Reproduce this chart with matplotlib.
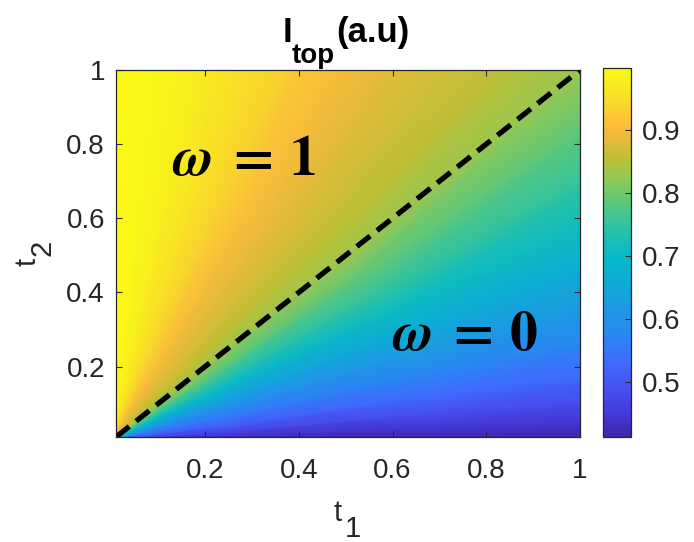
import numpy as np
import matplotlib
matplotlib.use("Agg")
import matplotlib.pyplot as plt
import matplotlib.tri as mtri
from matplotlib.colors import LinearSegmentedColormap

angles = [0, 3, 6, 10, 15, 20, 25, 30, 35, 40, 45, 50, 55, 60, 65, 70, 75, 80, 85, 90]
radii = [0.005, 0.25, 0.7, 1.42]
# one row per angle, one column per radius
I_top = [
    [0.413, 0.413, 0.413, 0.413],
    [0.440, 0.440, 0.445, 0.450],
    [0.470, 0.475, 0.485, 0.495],
    [0.510, 0.515, 0.530, 0.540],
    [0.550, 0.555, 0.575, 0.590],
    [0.590, 0.595, 0.620, 0.635],
    [0.635, 0.640, 0.660, 0.675],
    [0.685, 0.690, 0.705, 0.715],
    [0.735, 0.740, 0.750, 0.755],
    [0.790, 0.790, 0.792, 0.792],
    [0.840, 0.838, 0.835, 0.830],
    [0.860, 0.858, 0.855, 0.852],
    [0.875, 0.873, 0.871, 0.869],
    [0.890, 0.888, 0.887, 0.886],
    [0.907, 0.907, 0.907, 0.907],
    [0.935, 0.935, 0.935, 0.935],
    [0.958, 0.958, 0.958, 0.958],
    [0.977, 0.977, 0.977, 0.977],
    [0.991, 0.991, 0.991, 0.991],
    [0.998, 0.998, 0.998, 0.998],
]
t_diag = [0.01, 1.0]
cmin, cmax = 0.413, 0.998
ticks = [0.2, 0.4, 0.6, 0.8, 1.0]
tick_labels = ["0.2", "0.4", "0.6", "0.8", "1"]
cb_ticks = [0.5, 0.6, 0.7, 0.8, 0.9]
cb_labels = ["0.5", "0.6", "0.7", "0.8", "0.9"]

# parula-like colormap
parula = LinearSegmentedColormap.from_list("parula", [
    (0.00, (0.2422, 0.1504, 0.6603)),
    (0.06, (0.2700, 0.2200, 0.8500)),
    (0.13, (0.2800, 0.3100, 0.9450)),
    (0.20, (0.2500, 0.4200, 0.9950)),
    (0.27, (0.1650, 0.5250, 0.9600)),
    (0.35, (0.1150, 0.6000, 0.8900)),
    (0.42, (0.0500, 0.6750, 0.8400)),
    (0.49, (0.0250, 0.7300, 0.7800)),
    (0.56, (0.1600, 0.7600, 0.6600)),
    (0.63, (0.3300, 0.7850, 0.5000)),
    (0.70, (0.5600, 0.7900, 0.3400)),
    (0.76, (0.7600, 0.7500, 0.2000)),
    (0.82, (0.9400, 0.7300, 0.2300)),
    (0.855, (0.9950, 0.7500, 0.2200)),
    (0.91, (0.9700, 0.8600, 0.1650)),
    (1.00, (0.9769, 0.9839, 0.0805)),
], N=256)

plt.rcParams['font.family'] = ['Liberation Sans', 'DejaVu Sans']
dark = (0.15, 0.15, 0.15)
W, H = 694, 542

def fx(px):
    return px / W

def fy(py):
    return 1 - py / H

fig = plt.figure(figsize=(6.94, 5.42), dpi=100)
ax = fig.add_axes([fx(116), fy(437), fx(580) - fx(116), fy(70) - fy(437)])
cax = fig.add_axes([fx(603), fy(437), fx(631) - fx(603), fy(68) - fy(437)])

# polar sample grid -> triangulation
A, R = np.meshgrid(np.radians(angles), radii, indexing='ij')
px = (R * np.cos(A)).ravel()
py = (R * np.sin(A)).ravel()
nA, nR = len(angles), len(radii)
tris = []
for k in range(nA - 1):
    for j in range(nR - 1):
        a = k * nR + j
        b = (k + 1) * nR + j
        tris.append([a, b, b + 1])
        tris.append([a, b + 1, a + 1])
tri = mtri.Triangulation(px, py, tris)
mesh = ax.tripcolor(tri, np.array(I_top).ravel(), shading='gouraud', cmap=parula,
                    vmin=cmin, vmax=cmax)
ax.plot(t_diag, t_diag, color='black', lw=3.8, dashes=(3.2, 1.65))

ax.set_xlim(0.01, 1.0)
ax.set_ylim(0.01, 1.0)
ax.set_xticks(ticks)
ax.set_xticklabels(tick_labels)
ax.set_yticks(ticks)
ax.set_yticklabels(tick_labels)
ax.tick_params(direction='in', length=4, width=0.8, color=dark, labelcolor=dark,
               labelsize=20, top=True, right=True)
ax.tick_params(axis='x', pad=15)
ax.tick_params(axis='y', pad=8)
for sp in ax.spines.values():
    sp.set_color(dark)
    sp.set_linewidth(0.9)

ax.text(0.130, 0.717, r'$\boldsymbol{\omega}\;\boldsymbol{=}\;\boldsymbol{1}$', fontsize=40,
        math_fontfamily='stix', ha='left', va='baseline')
ax.text(0.598, 0.245, r'$\boldsymbol{\omega}\;\boldsymbol{=}\;\boldsymbol{0}$', fontsize=40,
        math_fontfamily='stix', ha='left', va='baseline')

cb = fig.colorbar(mesh, cax=cax)
cb.set_ticks(cb_ticks)
cb.set_ticklabels(cb_labels)
cax.tick_params(direction='in', length=4, width=0.8, color=dark, labelcolor=dark,
                labelsize=20, pad=8)
cb.outline.set_edgecolor(dark)
cb.outline.set_linewidth(0.9)

# title I_top(a.u) with full-size MATLAB style subscript
fig.text(fx(283), fy(42), 'I', fontsize=25, fontweight='bold', color='black', va='baseline')
fig.text(fx(292), fy(63), 'top', fontsize=20, fontweight='bold', color='black', va='baseline')
fig.text(fx(336), fy(42), '(a.u)', fontsize=25, fontweight='bold', color='black', va='baseline')

# axis labels t1, t2
fig.text(fx(334), fy(521), 't', fontsize=21, color=dark, va='baseline')
fig.text(fx(345), fy(537), '1', fontsize=21, color=dark, va='baseline')
fig.text(fx(35), fy(266), 't', fontsize=21, color=dark, rotation=90,
         rotation_mode='anchor', ha='left', va='baseline')
fig.text(fx(51), fy(256), '2', fontsize=21, color=dark, rotation=90,
         rotation_mode='anchor', ha='left', va='baseline')

fig.savefig('out.png', dpi=100)
